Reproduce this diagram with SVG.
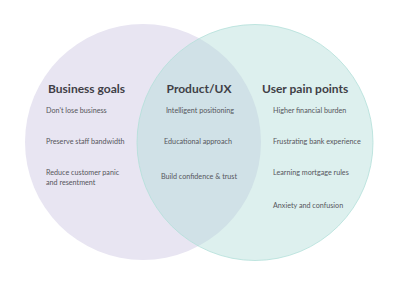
<svg xmlns="http://www.w3.org/2000/svg" width="400" height="284" viewBox="0 0 400 284">
<style>
.title{font-family:"Lato","Noto Sans",sans-serif;font-weight:700;font-size:12px;fill:#3f3f46}
.item{font-family:"Lato","Noto Sans",sans-serif;font-size:7.2px;fill:#56565c}
.mid{text-anchor:middle}
</style>
<rect width="400" height="284" fill="#ffffff"/>
<g id="business-goals">
<circle cx="143" cy="142" r="118" fill="#e8e5f2"/>
<text class="title" x="48" y="93">Business goals</text>
<text class="item" x="46" y="113">Don't lose business</text>
<text class="item" x="46" y="144">Preserve staff bandwidth</text>
<text class="item" x="46" y="175">Reduce customer panic</text>
<text class="item" x="46" y="184.5">and resentment</text>
</g>
<g id="user-pain-points">
<circle cx="255" cy="142.5" r="118" fill="#b0dcd7" fill-opacity="0.43" stroke="#b2dfd9" stroke-width="0.8"/>
<text class="title" x="262" y="93">User pain points</text>
<text class="item" x="273" y="113">Higher financial burden</text>
<text class="item" x="273" y="144">Frustrating bank experience</text>
<text class="item" x="273" y="175">Learning mortgage rules</text>
<text class="item" x="273" y="208">Anxiety and confusion</text>
</g>
<g id="product-ux">
<text class="title mid" x="199" y="93">Product/UX</text>
<text class="item mid" x="200" y="113">Intelligent positioning</text>
<text class="item mid" x="198" y="144">Educational approach</text>
<text class="item mid" x="199" y="179">Build confidence &amp; trust</text>
</g>
<g id="connectors"/>
</svg>
